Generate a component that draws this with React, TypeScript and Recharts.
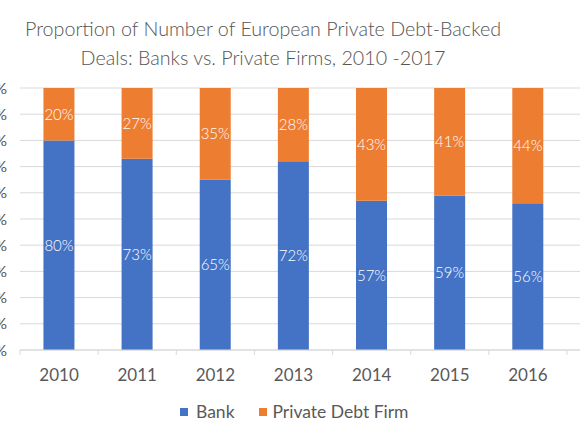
import React from "react";
import { BarChart, Bar, XAxis, YAxis, CartesianGrid, LabelList } from "recharts";

const years = ["2010", "2011", "2012", "2013", "2014", "2015", "2016"];
const bankShare = [80, 73, 65, 72, 57, 59, 56];
const privateDebtShare = [20, 27, 35, 28, 43, 41, 44];
const yTicks = [0, 10, 20, 30, 40, 50, 60, 70, 80, 90, 100];

const data = years.map((year, i) => ({
  year,
  bank: bankShare[i],
  privateDebt: privateDebtShare[i],
}));

const FONT = "Lato, 'Noto Sans', sans-serif";
const GRAY = "#595959";
const BLUE = "#4472C4";
const ORANGE = "#ED7D31";

const XTick = (props: any) => {
  const { x, y, payload, index, visibleTicksCount } = props;
  const half = payload && typeof payload.offset === "number" && payload.offset > 0 ? payload.offset : 39;
  const isLast = index === (visibleTicksCount ?? years.length) - 1;
  return (
    <g>
      <line x1={x - half} x2={x - half} y1={y} y2={y + 5} stroke="#D9D9D9" strokeWidth={1} />
      {isLast && <line x1={x + half} x2={x + half} y1={y} y2={y + 5} stroke="#D9D9D9" strokeWidth={1} />}
      <text x={x} y={y + 31} textAnchor="middle" fill={GRAY} fontSize={17} fontWeight={400} fontFamily={FONT}>
        {payload.value}
      </text>
    </g>
  );
};

const LegendRow = () => (
  <div
    style={{
      position: "absolute",
      top: 401,
      left: 180,
      display: "flex",
      alignItems: "center",
      fontFamily: FONT,
      fontSize: 17.5,
      fontWeight: 400,
      color: GRAY,
      whiteSpace: "nowrap",
    }}
  >
    <span style={{ width: 8, height: 8, background: BLUE, display: "inline-block", marginRight: 8 }} />
    <span style={{ marginRight: 24 }}>Bank</span>
    <span style={{ width: 8, height: 8, background: ORANGE, display: "inline-block", marginRight: 6 }} />
    <span>Private Debt Firm</span>
  </div>
);

export default function App() {
  return (
    <div
      style={{
        position: "fixed",
        left: 0,
        top: 0,
        width: 580,
        height: 435,
        overflow: "hidden",
        background: "#fff",
      }}
    >
      <div
        style={{
          position: "absolute",
          left: 0,
          top: 14,
          width: 526,
          textAlign: "center",
          fontFamily: FONT,
          fontSize: 19.7,
          fontWeight: 300,
          lineHeight: "29px",
          color: "#555555",
        }}
      >
        Proportion of Number of European Private Debt-Backed
        <br />
        Deals: Banks vs. Private Firms, 2010 -2017
      </div>
      <div style={{ position: "absolute", left: -40, top: 0 }}>
        <BarChart
          width={640}
          height={435}
          data={data}
          margin={{ top: 88, right: 10, bottom: 0, left: 0 }}
          barCategoryGap="30%"
        >
          <CartesianGrid vertical={false} stroke="#D9D9D9" strokeWidth={1} />
          <XAxis
            dataKey="year"
            axisLine={{ stroke: "#D9D9D9" }}
            tickLine={false}
            tickSize={0}
            tickMargin={0}
            tick={<XTick />}
            padding={{ left: 0, right: 23 }}
            interval={0}
            height={85}
          />
          <YAxis
            width={60}
            domain={[0, 100]}
            ticks={yTicks}
            interval={0}
            tickFormatter={(v: number) => `${v}%`}
            axisLine={false}
            tickLine={false}
            tickSize={6}
            tickMargin={7}
            tick={{ fill: GRAY, fontSize: 16, fontWeight: 400, fontFamily: FONT }}
          />
          <Bar dataKey="bank" stackId="a" fill={BLUE} isAnimationActive={false}>
            <LabelList
              dataKey="bank"
              position="center"
              formatter={(v: any) => `${v}%`}
              fill="#FFFFFF"
              fontSize={15}
              fontWeight={300}
              fontFamily={FONT}
            />
          </Bar>
          <Bar dataKey="privateDebt" stackId="a" fill={ORANGE} isAnimationActive={false}>
            <LabelList
              dataKey="privateDebt"
              position="center"
              formatter={(v: any) => `${v}%`}
              fill="#FFFFFF"
              fontSize={15}
              fontWeight={300}
              fontFamily={FONT}
            />
          </Bar>
        </BarChart>
      </div>
      <LegendRow />
    </div>
  );
}
